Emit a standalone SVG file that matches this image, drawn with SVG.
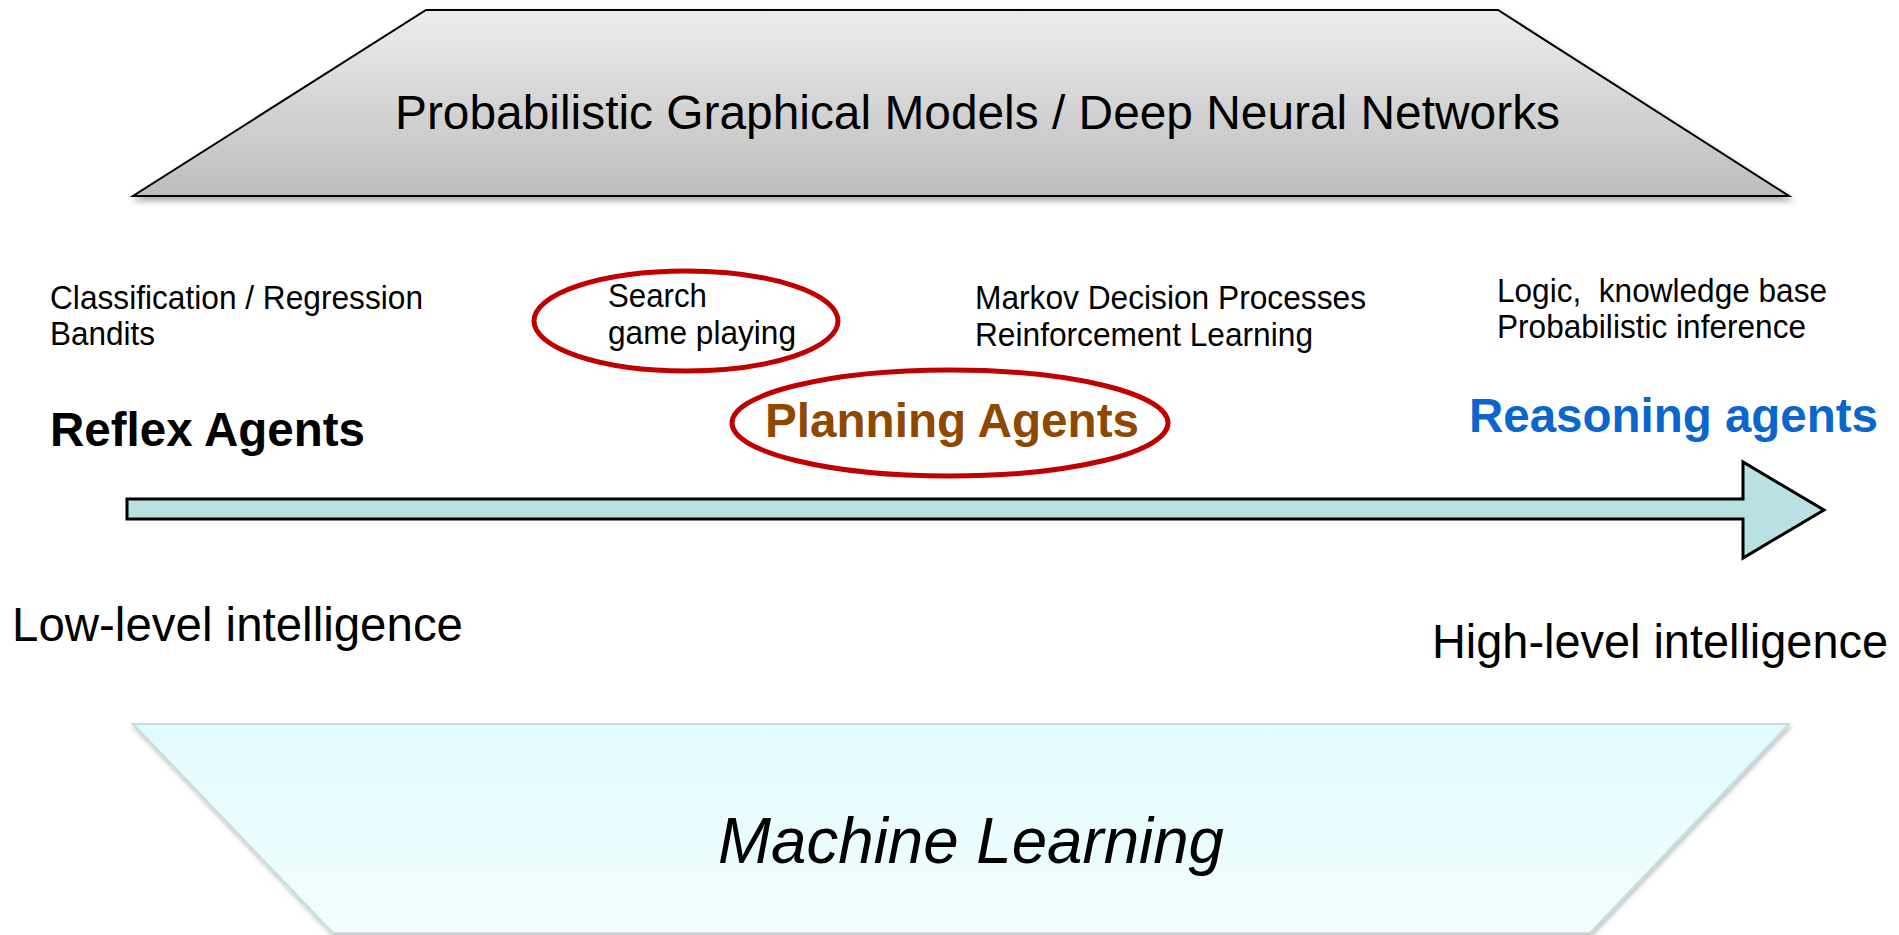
<svg xmlns="http://www.w3.org/2000/svg" width="1899" height="935" viewBox="0 0 1899 935">
  <defs>
    <linearGradient id="grayGrad" x1="0" y1="0" x2="0" y2="1">
      <stop offset="0" stop-color="#ededed"/>
      <stop offset="1" stop-color="#bdbdbd"/>
    </linearGradient>
    <linearGradient id="cyanGrad" x1="0" y1="0" x2="0" y2="1">
      <stop offset="0" stop-color="#e1fbfd"/>
      <stop offset="1" stop-color="#f2feff"/>
    </linearGradient>
    <filter id="shadow" x="-5%" y="-10%" width="110%" height="130%">
      <feDropShadow dx="2" dy="4" stdDeviation="3" flood-color="#000" flood-opacity="0.35"/>
    </filter>
    <filter id="shadowLight" x="-5%" y="-10%" width="110%" height="130%">
      <feDropShadow dx="1" dy="3" stdDeviation="2" flood-color="#000" flood-opacity="0.25"/>
    </filter>
  </defs>
  <style>
    text { font-family: "Liberation Sans", Arial, sans-serif; fill: #000; }
    .small { font-size: 32.5px; }
    .big { font-size: 48px; font-weight: bold; }
    .level { font-size: 48px; }
    .title { font-size: 48px; }
    .ml { font-size: 64px; font-style: italic; }
    .ring { fill: none; stroke: #c00000; stroke-width: 5; }
  </style>
  <rect x="0" y="0" width="1899" height="935" fill="#ffffff"/>

  <g id="pgm-dnn">
    <polygon points="426,10 1498,10 1789,196 133,196" fill="url(#grayGrad)" stroke="#000" stroke-width="2" filter="url(#shadow)"/>
    <text class="title" x="395" y="129" textLength="1165" lengthAdjust="spacingAndGlyphs">Probabilistic Graphical Models / Deep Neural Networks</text>
  </g>

  <g id="machine-learning">
    <polygon points="133,724 1789,724 1590,933 333,933" fill="url(#cyanGrad)" stroke="#c3dde0" stroke-width="2" filter="url(#shadowLight)"/>
    <text class="ml" x="718" y="863" textLength="506" lengthAdjust="spacingAndGlyphs">Machine Learning</text>
  </g>

  <g id="connectors">
    <polygon id="axis-arrow" points="127,499 1743,499 1743,462 1824,510 1743,558 1743,519 127,519" fill="#b9e0e3" stroke="#000" stroke-width="3" stroke-linejoin="miter"/>
  </g>

  <g id="reflex-methods">
    <text class="small" x="50" y="309" textLength="373" lengthAdjust="spacingAndGlyphs">Classification / Regression</text>
    <text class="small" x="50" y="345" textLength="105" lengthAdjust="spacingAndGlyphs">Bandits</text>
  </g>

  <g id="search-methods">
    <ellipse class="ring" cx="686" cy="321" rx="152" ry="50"/>
    <text class="small" x="608" y="307" textLength="99" lengthAdjust="spacingAndGlyphs">Search</text>
    <text class="small" x="608" y="344" textLength="188" lengthAdjust="spacingAndGlyphs">game playing</text>
  </g>

  <g id="mdp-methods">
    <text class="small" x="975" y="309" textLength="391" lengthAdjust="spacingAndGlyphs">Markov Decision Processes</text>
    <text class="small" x="975" y="346" textLength="338" lengthAdjust="spacingAndGlyphs">Reinforcement Learning</text>
  </g>

  <g id="reasoning-methods">
    <text class="small" x="1497" y="302" textLength="330" lengthAdjust="spacingAndGlyphs" xml:space="preserve">Logic,  knowledge base</text>
    <text class="small" x="1497" y="338" textLength="309" lengthAdjust="spacingAndGlyphs">Probabilistic inference</text>
  </g>

  <g id="reflex-agents">
    <text class="big" x="50" y="446" textLength="315" lengthAdjust="spacingAndGlyphs">Reflex Agents</text>
  </g>

  <g id="planning-agents">
    <ellipse class="ring" cx="950" cy="423" rx="218" ry="53"/>
    <text class="big" x="765" y="437" textLength="374" lengthAdjust="spacingAndGlyphs" style="fill:#8f4800">Planning Agents</text>
  </g>

  <g id="reasoning-agents">
    <text class="big" x="1469" y="432" textLength="409" lengthAdjust="spacingAndGlyphs" style="fill:#0a66cc">Reasoning agents</text>
  </g>

  <g id="low-level">
    <text class="level" x="12" y="641" textLength="451" lengthAdjust="spacingAndGlyphs">Low-level intelligence</text>
  </g>

  <g id="high-level">
    <text class="level" x="1432" y="658" textLength="456" lengthAdjust="spacingAndGlyphs">High-level intelligence</text>
  </g>
</svg>
